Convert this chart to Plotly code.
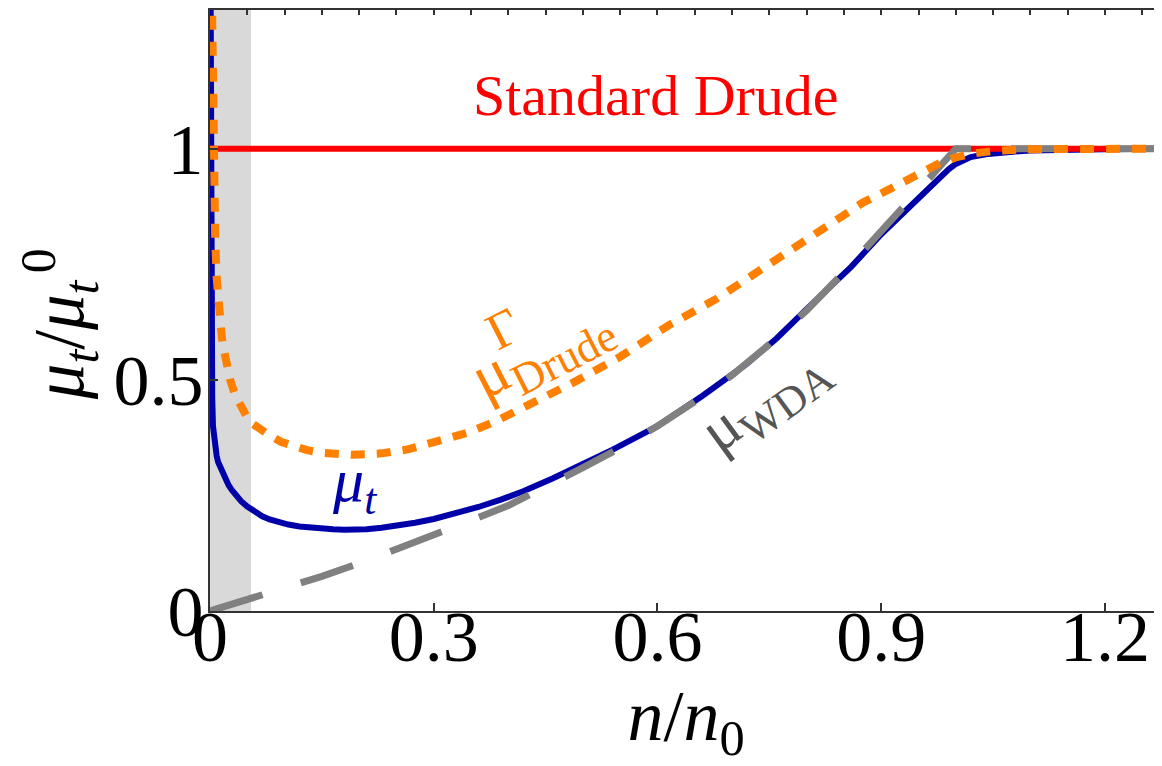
import plotly.graph_objects as go

# ---------------- data ----------------
x_tick_vals = [0, 0.3, 0.6, 0.9, 1.2]
x_tick_text = ["0", "0.3", "0.6", "0.9", "1.2"]
y_tick_vals = [0, 0.5, 1]
y_tick_text = ["0", "0.5", "1"]

band_x = [0.0, 0.055]          # shaded low-density region

mu_t_x = [0.0008, 0.0012, 0.0016, 0.002, 0.0025, 0.003, 0.004, 0.0055, 0.007, 0.009, 0.011,
          0.014, 0.017, 0.021, 0.025, 0.03, 0.035, 0.042, 0.05,
          0.06, 0.07, 0.08, 0.09, 0.105, 0.12, 0.135, 0.15, 0.165, 0.18, 0.195, 0.21, 0.23,
          0.25, 0.275, 0.3, 0.33, 0.36, 0.39, 0.42, 0.46, 0.5, 0.54,
          0.6, 0.66, 0.72, 0.76, 0.8, 0.86, 0.9, 0.93, 0.95, 0.97, 0.98, 0.99, 1.0, 1.01,
          1.02, 1.04, 1.06, 1.08, 1.1, 1.15, 1.2, 1.3]
mu_t_y = [1.35, 0.95, 0.70, 0.56, 0.50, 0.46, 0.40, 0.37, 0.35, 0.335, 0.322,
          0.31, 0.30, 0.285, 0.272, 0.26, 0.249, 0.237, 0.226,
          0.214, 0.205, 0.198, 0.193, 0.187, 0.183, 0.180, 0.178, 0.177, 0.176, 0.176, 0.177, 0.180,
          0.184, 0.191, 0.199, 0.211, 0.225, 0.241, 0.259, 0.287, 0.318, 0.349,
          0.40, 0.465, 0.535, 0.59, 0.653, 0.745, 0.815, 0.862, 0.893, 0.924, 0.94, 0.955, 0.967, 0.976,
          0.982, 0.988, 0.992, 0.994, 0.996, 0.998, 0.999, 1.0]

drude_x = [0.0, 1.3]
drude_y = [1.0, 1.0]

wda_x = [0.0, 0.05, 0.1, 0.15, 0.2, 0.25, 0.3, 0.35, 0.4, 0.45, 0.5, 0.55, 0.6, 0.65,
         0.7, 0.75, 0.8, 0.85, 0.9, 0.925, 0.95, 0.975, 1.0, 1.3]
wda_y = [0.0, 0.024, 0.048, 0.075, 0.103, 0.133, 0.165, 0.196, 0.228, 0.267, 0.31, 0.353, 0.40, 0.453,
         0.51, 0.577, 0.65, 0.733, 0.82, 0.862, 0.91, 0.955, 1.0, 1.0]

gdrude_x = [0.002, 0.003, 0.004, 0.0055, 0.007, 0.009, 0.011, 0.0135, 0.016, 0.019, 0.022,
            0.027, 0.033, 0.04, 0.049, 0.057, 0.065, 0.078,
            0.095, 0.112, 0.13, 0.15, 0.17, 0.19, 0.21, 0.23, 0.264, 0.30, 0.344, 0.38, 0.416,
            0.45, 0.487, 0.55, 0.617, 0.679, 0.75, 0.81, 0.876, 0.912, 0.952, 0.98, 1.0,
            1.02, 1.05, 1.1, 1.3]
gdrude_y = [1.40, 1.18, 1.05, 0.91, 0.80, 0.72, 0.66, 0.62, 0.59, 0.562, 0.537,
            0.50, 0.47, 0.444, 0.421, 0.405, 0.395, 0.382,
            0.366, 0.356, 0.348, 0.342, 0.339, 0.338, 0.339, 0.341, 0.349, 0.364, 0.385, 0.408, 0.436,
            0.463, 0.494, 0.55, 0.62, 0.675, 0.75, 0.81, 0.884, 0.913, 0.946, 0.97, 0.981,
            0.989, 0.995, 0.999, 1.0]

# ---------------- styles ----------------
FONT = "Liberation Serif, Times New Roman, serif"
BLUE = "#0000A8"
RED = "#FF0000"
GREY = "#808080"
ORANGE = "#FF8000"
AXIS = "#333333"

fig = go.Figure()

fig.add_shape(type="rect", xref="x", yref="y", x0=band_x[0], x1=band_x[1],
              y0=0, y1=1.3, fillcolor="#D9D9D9", line_width=0, layer="below")

fig.add_trace(go.Scatter(x=mu_t_x, y=mu_t_y, mode="lines",
                         line=dict(color=BLUE, width=6), showlegend=False))
fig.add_trace(go.Scatter(x=drude_x, y=drude_y, mode="lines",
                         line=dict(color=RED, width=6), showlegend=False))
fig.add_trace(go.Scatter(x=wda_x, y=wda_y, mode="lines",
                         line=dict(color=GREY, width=7, dash="55px,40px"),
                         showlegend=False))
fig.add_trace(go.Scatter(x=gdrude_x, y=gdrude_y, mode="lines",
                         line=dict(color=ORANGE, width=8, dash="14px,12px"),
                         showlegend=False))
# helper trace for the top axis with fine ticks
fig.add_trace(go.Scatter(x=[None], y=[None], xaxis="x2", yaxis="y",
                         mode="lines", showlegend=False, hoverinfo="skip"))

ann = []
ann.append(dict(x=0.598, y=1.115, text="Standard Drude", showarrow=False,
                font=dict(family=FONT, size=58, color=RED)))
ann.append(dict(x=0.194, y=0.273, text="<i>μ<sub>t</sub></i>", showarrow=False,
                font=dict(family=FONT, size=62, color=BLUE)))
ann.append(dict(x=0.445, y=0.56, text="μ<sub>Drude</sub>", showarrow=False, textangle=-27,
                font=dict(family=FONT, size=64, color=ORANGE)))
ann.append(dict(x=0.393, y=0.612, text="Γ", showarrow=False, textangle=-27,
                font=dict(family=FONT, size=52, color=ORANGE)))
ann.append(dict(x=0.744, y=0.456, text="μ<sub>WDA</sub>", showarrow=False, textangle=-36,
                font=dict(family=FONT, size=62, color="#555555")))
for a in ann:
    a.update(xref="x", yref="y", xanchor="center", yanchor="middle")

# y-axis title: μ_t / μ_t^0 with the superscript stacked above the subscript
ann.append(dict(x=-0.152, y=0.451, xref="paper", yref="paper", textangle=-90,
                text="<i>μ<sub>t</sub></i>/<i>μ<sub>t</sub></i>", showarrow=False,
                xanchor="center", yanchor="middle",
                font=dict(family=FONT, size=71, color="black")))
ann.append(dict(x=-0.181, y=0.583, xref="paper", yref="paper", textangle=-90,
                text="0", showarrow=False, xanchor="center", yanchor="middle",
                font=dict(family=FONT, size=50, color="black")))

# page body adds an 8px offset; figure size and margins compensate for it
fig.update_layout(
    width=1154, height=758,
    margin=dict(l=202, r=0, t=2, b=155),
    paper_bgcolor="white", plot_bgcolor="white",
    annotations=ann,
    xaxis=dict(range=[0, 1.2765], tickvals=x_tick_vals, ticktext=x_tick_text,
               ticks="inside", ticklen=8, tickwidth=2, tickcolor=AXIS,
               showline=True, linecolor=AXIS, linewidth=2, mirror=True,
               showgrid=False, zeroline=False, ticklabelstandoff=-38,
               automargin=False,
               tickfont=dict(family=FONT, size=72, color="black"),
               title=dict(text="<i>n</i>/<i>n</i><sub>0</sub>", standoff=8,
                          font=dict(family=FONT, size=72, color="black"))),
    xaxis2=dict(range=[0, 1.2765], overlaying="x", side="top", anchor="y",
                tick0=0, dtick=0.05, ticks="inside", ticklen=5, tickwidth=2,
                tickcolor=AXIS, showticklabels=False, showline=False,
                showgrid=False, zeroline=False, automargin=False),
    yaxis=dict(range=[0, 1.3], tickvals=y_tick_vals, ticktext=y_tick_text,
               ticks="inside", ticklen=8, tickwidth=2, tickcolor=AXIS,
               showline=True, linecolor=AXIS, linewidth=2, mirror=False,
               showgrid=False, zeroline=False, ticklabelstandoff=-10,
               automargin=False,
               tickfont=dict(family=FONT, size=72, color="black")),
)

fig.write_html("out.html")
